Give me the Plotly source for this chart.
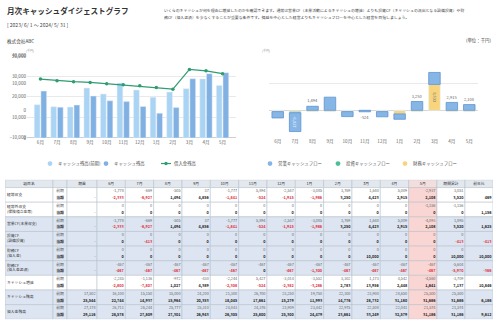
import plotly.graph_objects as go

JP = "Noto Sans CJK JP"
W, H = 500, 330

months = ["6月", "7月", "8月", "9月", "10月", "11月", "12月", "1月", "2月", "3月", "4月", "5月"]

# 残高推移（千円）
cash_prev = [16100, 15150, 15000, 24200, 21300, 26700, 23250, 19750, 22300, 23900, 28650, 25500]
cash_cur = [22744, 14937, 15964, 20353, 18045, 17661, 15279, 11993, 14776, 28732, 31180, 31686]
loan_cur = [28578, 27809, 27301, 26943, 26305, 25800, 25300, 24479, 23661, 33249, 32579, 31186]
loan_prev = [26711, 26244, 25777, 25310, 24843, 24376, 23909, 23442, 22975, 22508, 22041, 21574]
cash_open = [17502, 25544]
loan_open = [27178, 29116]

# キャッシュフロー（千円）
op_cf = [-2333, -6927, 1494, 4856, -1841, -524, -1915, -1986, 3250, 4423, 2915, 2108]
inv_cf = [0, -413, 0, 0, 0, 0, 0, 0, 0, 0, 0, 0]
fin_cf = [-467, -467, -467, -467, -467, 0, -467, -1300, -467, 9533, -467, -467]
borrow_cur = [0, 0, 0, 0, 0, 0, 0, 0, 0, 10000, 0, 0]
nonop_cur = [0, 0, 0, 0, 0, 0, 0, 0, 0, 0, 0, 0]

# 前期実績
op_prev = [-1778, -669, -505, 37, -1777, 5894, -2547, -3085, 3769, 1640, 5009, -2937]
nonop_prev = [0, 0, 0, 0, 0, 0, 0, 0, 0, 0, 0, -1156]
inv_prev = [0, 0, 0, 0, 0, 0, 0, 0, 0, 0, 0, 0]
borrow_prev = [0, 0, 0, 0, 0, 0, 0, 0, 0, 0, 0, 0]
repay_prev = [-467, -467, -467, -467, -467, -467, -467, -467, -467, -467, -467, -467]

row_labels = ["経常収支", "経常外収支<br>(保険積立金等)", "営業CF(本業収支)", "投資CF<br>(設備投資)",
              "財務CF<br>(借入金)", "財務CF<br>(借入金返済)", "キャッシュ増減", "キャッシュ残高", "借入金残高"]
col_headers = ["項目名", "", "期首"] + months + ["期間累計", "前年比"]
col_widths = [48, 14, 30] + [28.33] * 12 + [28, 28]

C_LIGHT = "#aad4f4"
C_DARK = "#80b1e2"
C_LINE = "#2f9c72"
C_OP = "#86b6e6"
C_INV = "#4cbf97"
C_FIN = "#f8d57c"
GRID = "#e9e9e9"
TICK = dict(family=JP, size=4.6, color="#666")
RED = "#e0323c"


def px(x):
    return x / W


def py(y):
    return 1 - y / H


fig = go.Figure()

# ---- 左：キャッシュ残高と借入金残高 ----
fig.add_trace(go.Bar(x=months, y=cash_prev, name="キャッシュ残高(前期)", marker_color=C_LIGHT,
                     offsetgroup="prev", xaxis="x", yaxis="y"))
fig.add_trace(go.Bar(x=months, y=cash_cur, name="キャッシュ残高", marker_color=C_DARK,
                     offsetgroup="cur", text=[f"{v:,}" for v in cash_cur], textposition="outside",
                     textfont=dict(family=JP, size=4.6, color="#555"), cliponaxis=False,
                     xaxis="x", yaxis="y"))
fig.add_trace(go.Scatter(x=months, y=loan_cur, name="借入金残高", mode="lines+markers",
                         line=dict(color=C_LINE, width=1.2), marker=dict(size=3.5, color=C_LINE),
                         xaxis="x", yaxis="y"))

# ---- 右：キャッシュフロー（正負別に積み上げ） ----
pos_base = [0] * 12
neg_base = [0] * 12
cf_series = [("財務キャッシュフロー", fin_cf, C_FIN), ("投資キャッシュフロー", inv_cf, C_INV),
             ("営業キャッシュフロー", op_cf, C_OP)]
for name, vals, color in cf_series:
    base = []
    for i, v in enumerate(vals):
        if v >= 0:
            base.append(pos_base[i])
            pos_base[i] += v
        else:
            base.append(neg_base[i])
            neg_base[i] += v
    kw = dict(x=months, y=vals, base=base, name=name, marker_color=color, width=0.66,
              offsetgroup="cf", xaxis="x2", yaxis="y2", cliponaxis=False)
    labels = [f"{v:,}" if v else "" for v in vals]
    if name.startswith("営業"):
        kw.update(marker_line=dict(color="#5e93cf", width=0.8), text=labels, textposition="auto",
                  insidetextanchor="middle",
                  insidetextfont=dict(family=JP, size=4.4, color="#eef5fc"),
                  outsidetextfont=dict(family=JP, size=4.4, color="#666"))
    elif name.startswith("財務"):
        kw.update(text=labels, textposition="inside", insidetextanchor="middle",
                  textfont=dict(family=JP, size=4.4, color="#777"))
    else:
        kw.update(text=labels, textposition="outside",
                  textfont=dict(family=JP, size=4.4, color="#666"))
    fig.add_trace(go.Bar(**kw))

# ---- 表 ----
ops_prev = [a + b for a, b in zip(op_prev, nonop_prev)]
ops_cur = [a + b for a, b in zip(op_cf, nonop_cur)]
repay_cur = [f - b for f, b in zip(fin_cf, borrow_cur)]
change_prev = [a + b + c + d for a, b, c, d in zip(ops_prev, inv_prev, borrow_prev, repay_prev)]
change_cur = [a + b + c + d for a, b, c, d in zip(ops_cur, inv_cf, borrow_cur, repay_cur)]
flow_rows = [(op_prev, op_cf), (nonop_prev, nonop_cur), (ops_prev, ops_cur), (inv_prev, inv_cf),
             (borrow_prev, borrow_cur), (repay_prev, repay_cur), (change_prev, change_cur)]
bal_rows = [(cash_prev, cash_cur, cash_open), (loan_prev, loan_cur, loan_open)]

HEAD_H = 8
ROW_H = 14.9
TABLE_W = sum(col_widths)
TABLE_H = HEAD_H + ROW_H * len(row_labels)
col_x = [0]
for w in col_widths:
    col_x.append(col_x[-1] + w)

WHITE, BLUE, PINK, HEAD = "#ffffff", "#dce5f1", "#f9d6d4", "#e3e8ee"
row_fill = [WHITE, WHITE, BLUE, BLUE, BLUE, BLUE, WHITE, BLUE, BLUE]
pink_col = col_headers.index("5月")

shapes = []
for j in range(len(col_widths)):
    x0, x1 = col_x[j], col_x[j + 1]
    shapes.append(dict(type="rect", xref="x3", yref="y3", x0=x0, x1=x1, y0=0, y1=HEAD_H,
                       fillcolor="#f3dede" if j == pink_col else HEAD,
                       line=dict(color="#b3bcc7", width=0.5), layer="below"))
    for r in range(len(row_labels)):
        y0 = HEAD_H + r * ROW_H
        shapes.append(dict(type="rect", xref="x3", yref="y3", x0=x0, x1=x1, y0=y0, y1=y0 + ROW_H,
                           fillcolor=PINK if j == pink_col else row_fill[r],
                           line=dict(color="#b3bcc7", width=0.5), layer="below"))

tx, ty, tt, tc, tp = [], [], [], [], []


def put(x, y, text, color="#222", pos="middle left"):
    tx.append(x)
    ty.append(y)
    tt.append(text)
    tc.append(color)
    tp.append(pos)


def num(v, bold):
    s = f"{v:,}"
    return f"<b>{s}</b>" if bold else s


for j, h in enumerate(col_headers):
    put((col_x[j] + col_x[j + 1]) / 2, HEAD_H / 2, h, "#333", "middle center")

for r, lab in enumerate(row_labels):
    top = HEAD_H + r * ROW_H
    y_prev, y_cur, y_mid = top + 3.9, top + 10.9, top + ROW_H / 2
    put(col_x[0] + 2, y_mid, lab, "#333", "middle right")
    put((col_x[1] + col_x[2]) / 2, y_prev, "前期", "#555", "middle center")
    put((col_x[1] + col_x[2]) / 2, y_cur, "<b>当期</b>", "#333", "middle center")
    if r < len(flow_rows):
        prev, cur = flow_rows[r]
        opening = None
        total_prev, total_cur = sum(prev), sum(cur)
    else:
        prev, cur, opening = bal_rows[r - len(flow_rows)]
        total_prev, total_cur = prev[-1], cur[-1]
    right = col_x[3] - 1.5
    if opening is None:
        if r < 6:
            put(right, y_cur, "-", "#555")
    else:
        put(right, y_prev, num(opening[0], False), "#666")
        put(right, y_cur, num(opening[1], True), "#222")
    for m in range(12):
        right = col_x[3 + m + 1] - 1.5
        put(right, y_prev, num(prev[m], False), "#666")
        put(right, y_cur, num(cur[m], True), RED if cur[m] < 0 else "#222")
    right = col_x[16] - 1.5
    put(right, y_prev, num(total_prev, False), "#666")
    put(right, y_cur, num(total_cur, True), RED if total_cur < 0 else "#222")
    d = total_cur - total_prev
    put(col_x[17] - 1.5, y_cur, num(d, True), RED if d < 0 else "#222")

fig.add_trace(go.Scatter(x=tx, y=ty, text=tt, mode="text", textposition=tp,
                         textfont=dict(family=JP, size=3.8, color=tc),
                         xaxis="x3", yaxis="y3", hoverinfo="skip", cliponaxis=False))

# ---- 凡例（手描き） ----
LEG_Y = 163.5
legend_items = [
    ("dot", 50, C_LIGHT, "キャッシュ残高(前期)"),
    ("dot", 106, C_DARK, "キャッシュ残高"),
    ("line", 166, C_LINE, "借入金残高"),
    ("dot", 270, C_OP, "営業キャッシュフロー"),
    ("dot", 338, C_INV, "投資キャッシュフロー"),
    ("dot", 405, C_FIN, "財務キャッシュフロー"),
]
annos = []
for kind, x, color, label in legend_items:
    r = 2.4
    if kind == "line":
        shapes.append(dict(type="line", xref="paper", yref="paper", x0=px(x - 5), x1=px(x + 5),
                           y0=py(LEG_Y), y1=py(LEG_Y), line=dict(color=color, width=1.2)))
        r = 1.7
    shapes.append(dict(type="circle", xref="paper", yref="paper", x0=px(x - r), x1=px(x + r),
                       y0=py(LEG_Y - r), y1=py(LEG_Y + r), fillcolor=color, line=dict(width=0)))
    annos.append(dict(x=x + 6, y=LEG_Y, text=label, font=dict(size=4.4, color="#555")))

axis_x = dict(showgrid=False, showline=False, ticks="", tickfont=TICK, fixedrange=True)
fig.update_layout(
    width=W, height=H, margin=dict(l=0, r=0, t=0, b=0),
    paper_bgcolor="white", plot_bgcolor="white", showlegend=False,
    barmode="group", bargap=0.2, bargroupgap=0.14,
    font=dict(family=JP, color="#333"),
    uniformtext=dict(minsize=4, mode="hide"),
    xaxis=dict(domain=[px(27), px(236)], anchor="y", **axis_x),
    yaxis=dict(domain=[py(137.5), py(53.5)], range=[0, 40000], dtick=10000, tickformat=",",
               gridcolor=GRID, zeroline=True, zerolinecolor="#cfcfcf", zerolinewidth=0.8,
               tickfont=TICK, ticks="", fixedrange=True),
    xaxis2=dict(domain=[px(269), px(478)], anchor="y2", **axis_x),
    yaxis2=dict(domain=[py(137), py(54)], range=[-10000, 20000], dtick=10000, tickformat=",",
                gridcolor=GRID, zeroline=True, zerolinecolor="#d8d8d8", zerolinewidth=0.8,
                tickfont=TICK, ticks="", fixedrange=True),
    xaxis3=dict(domain=[px(5), px(5 + TABLE_W)], range=[0, TABLE_W], visible=False,
                anchor="y3", fixedrange=True),
    yaxis3=dict(domain=[py(180 + TABLE_H), py(180)], range=[TABLE_H, 0], visible=False,
                anchor="x3", fixedrange=True),
    shapes=shapes,
)

desc1 = ("いくらのキャッシュが何を理由に増減したのかを確認できます。通常は営業CF（本業活動によるキャッシュの増減）よりも"
         "投資CF（キャッシュの流出となる設備投資）や財")
desc2 = "務CF（借入返済）を少なくすることが重要な条件です。損益を中心とした経営よりもキャッシュフローを中心とした経営を目指しましょう。"

annos += [
    dict(x=5, y=8, text="<b>月次キャッシュダイジェストグラフ</b>", font=dict(size=7.6, color="#333")),
    dict(x=5, y=22, text="[ 2023/ 6/ 1 ～ 2024/ 5/ 31 ]", font=dict(size=5, color="#444")),
    dict(x=5, y=39, text="株式会社ABC", font=dict(size=4.6, color="#333")),
    dict(x=162, y=7, text=desc1, font=dict(size=3.9, color="#444")),
    dict(x=162, y=14.5, text=desc2, font=dict(size=3.9, color="#444")),
    dict(x=464, y=38.5, text="(単位：千円)", font=dict(size=4.4, color="#444")),
    dict(x=24, y=48, text="(千円)", font=dict(size=3, color="#999")),
    dict(x=260, y=48, text="(千円)", font=dict(size=3, color="#999")),
]
for a in annos:
    fig.add_annotation(x=px(a["x"]), y=py(a["y"]), xref="paper", yref="paper",
                       xanchor="left", yanchor="middle", showarrow=False,
                       text=a["text"], font=dict(family=JP, **a["font"]))

fig.write_html("out.html")
